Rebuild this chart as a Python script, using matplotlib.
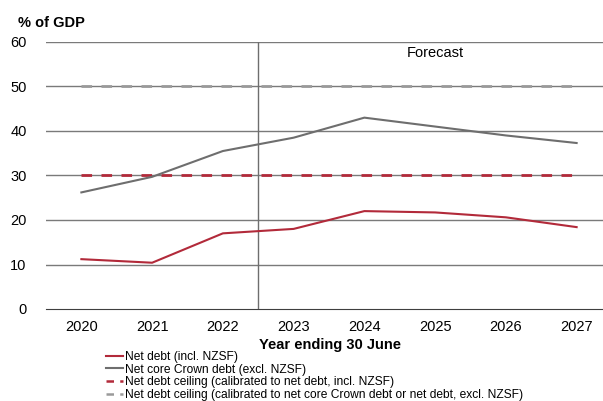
import matplotlib.pyplot as plt
from matplotlib.lines import Line2D

plt.rcParams['font.family'] = ['Liberation Sans', 'DejaVu Sans']

years = ["2020", "2021", "2022", "2023", "2024", "2025", "2026", "2027"]
net_debt = [11.2, 10.4, 17.0, 18.0, 22.0, 21.7, 20.6, 18.4]
net_core_crown = [26.2, 29.7, 35.5, 38.5, 43.0, 41.0, 39.0, 37.3]
ceiling_incl = [30] * len(years)
ceiling_excl = [50] * len(years)

RED = "#B22A3A"
GREY = "#6E6E6E"
LIGHT_GREY = "#9A9A9A"


def main():
    fig = plt.figure(figsize=(6.03, 4.01), dpi=100)
    ax = fig.add_axes([46 / 603, 1 - 309 / 401, 566 / 603, 267 / 401])
    x = list(range(len(years)))

    for y in range(10, 61, 10):
        ax.axhline(y, color="#7A7A7A", lw=1.0, zorder=1)
    ax.axvline(2.5, color="#6E6E6E", lw=1.0, zorder=1)

    ax.plot(x, ceiling_excl, color=LIGHT_GREY, lw=2.0, dashes=(3.8, 3.4), zorder=2)
    ax.plot(x, ceiling_incl, color=RED, lw=2.0, dashes=(3.8, 3.4), zorder=2)
    ax.plot(x, net_core_crown, color=GREY, lw=1.5, zorder=3)
    ax.plot(x, net_debt, color=RED, lw=1.5, zorder=3)

    ax.text(5, 57.5, "Forecast", ha="center", va="center", fontsize=10.5)

    ax.set_xlim(-0.5, 7.5)
    ax.set_ylim(0, 60)
    ax.set_xticks(x)
    ax.set_xticklabels(years, fontsize=10.5)
    ax.set_yticks(range(0, 61, 10))
    ax.tick_params(axis="y", labelsize=10.5, length=0, pad=14)
    ax.tick_params(axis="x", length=0, pad=8)
    for side in ["top", "right", "left"]:
        ax.spines[side].set_visible(False)
    ax.spines["bottom"].set_color("#3F3F3F")
    ax.spines["bottom"].set_zorder(4)

    fig.text(18 / 603, 1 - 23 / 401, "% of GDP", fontsize=10.5,
             fontweight="bold", va="center", ha="left")
    fig.text(330 / 603, 1 - 345 / 401, "Year ending 30 June", fontsize=10.5,
             fontweight="bold", va="center", ha="center")

    handles = [
        Line2D([], [], color=RED, lw=1.5),
        Line2D([], [], color=GREY, lw=1.5),
        Line2D([], [], color=RED, lw=1.8, dashes=(3, 2.5)),
        Line2D([], [], color=LIGHT_GREY, lw=1.8, dashes=(3, 2.5)),
    ]
    labels = [
        "Net debt (incl. NZSF)",
        "Net core Crown debt (excl. NZSF)",
        "Net debt ceiling (calibrated to net debt, incl. NZSF)",
        "Net debt ceiling (calibrated to net core Crown debt or net debt, excl. NZSF)",
    ]
    fig.legend(handles, labels, loc="upper left",
               bbox_to_anchor=(106 / 603, 1 - 351 / 401), frameon=False,
               fontsize=8.65, handlelength=1.45, handletextpad=0.1,
               labelspacing=0.05, borderpad=0, borderaxespad=0)

    fig.savefig("out.png", dpi=100)


if __name__ == "__main__":
    main()
